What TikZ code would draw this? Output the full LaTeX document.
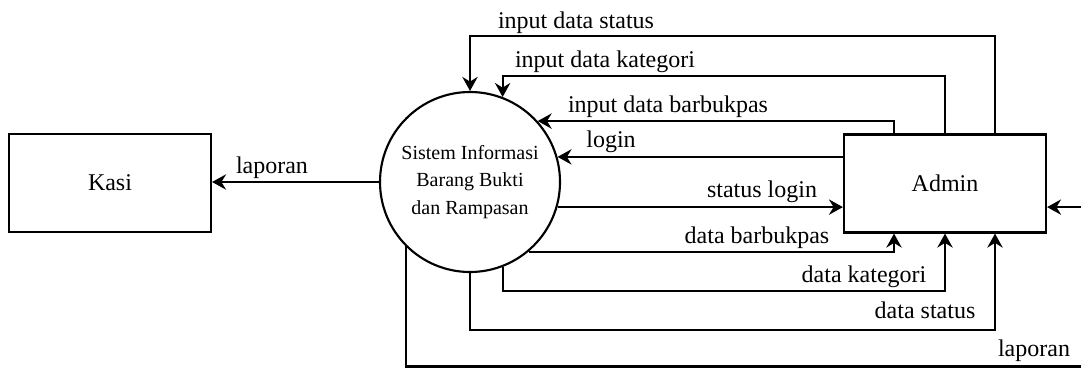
\documentclass[tikz,border=0pt]{standalone}
\usepackage{fontspec}
\setmainfont{Liberation Serif}
\usetikzlibrary{arrows.meta,calc}
\begin{document}
\begin{tikzpicture}[x=0.75pt,y=-0.75pt,
  line width=1.6pt,
  flow/.style={-{Stealth[length=10.5pt,width=11.5pt,inset=3.5pt]}},
  entity/.style={draw,minimum width=151.5pt,minimum height=73.5pt,inner sep=0pt,font=\fontsize{18}{22}\selectfont},
  proc/.style={draw,circle,minimum size=135pt,inner sep=0pt,align=center,font=\fontsize{15}{20.6}\selectfont},
  lbl/.style={anchor=base,inner sep=0pt,font=\fontsize{18}{22}\selectfont}]
\useasboundingbox (0,0) rectangle (1081,368);
\node[entity] (K) at (110,183) {Kasi};
\node[entity] (A) at (945,183.5) {Admin};
\node[proc] (S) at (470,182) {Sistem Informasi\\Barang Bukti\\dan Rampasan};
\coordinate (xs) at (995,0);
\coordinate (xk) at (945,0);
\coordinate (xb) at (894,0);
\coordinate (xr) at (1086,0);
\coordinate (y1) at (0,36);
\coordinate (y2) at (0,76);
\coordinate (y4) at (0,291);
\coordinate (y5) at (0,330);
\coordinate (y6) at (0,366.5);
% Kasi
\draw[flow] (S.west) -- (K.east |- S.west);
% inputs from Admin
\draw[flow] (A.north -| xs) -- (xs |- y1) -| (S.north);
\draw[flow] (A.north -| xk) -- (xk |- y2) -| (S.69.2);
\draw[flow] (A.north -| xb) |- (S.42.7);
\draw[flow] (A.west |- S.16.8) -- (S.16.8);
% outputs to Admin
\draw[flow] (S.-16.8) -- (A.west |- S.-16.8);
\draw[flow] (S.-50.1) -| (A.south -| xb);
\draw[flow] (S.-69.2) -- (S.-69.2 |- y4) -| (A.south -| xk);
\draw[flow] (S.south) -- (S.south |- y5) -| (A.south -| xs);
\draw[flow] (S.225.6) -- (S.225.6 |- y6) -- (xr |- y6) -- (xr |- S.-16.8) -- (A.east |- S.-16.8);
% labels
\node[lbl] (l1) at (272,173) {laporan};
\node[lbl] (l2) at (576,28) {input data status};
\node[lbl] (l3) at (605,67) {input data kategori};
\node[lbl] (l4) at (668,112) {input data barbukpas};
\node[lbl] (l5) at (611,147) {login};
\node[lbl] (l6) at (762,197) {status login};
\node[lbl] (l7) at (757,243) {data barbukpas};
\node[lbl] (l8) at (864,282) {data kategori};
\node[lbl] (l9) at (925,318) {data status};
\node[lbl] (l10) at (1034,356) {laporan};
\end{tikzpicture}
\end{document}
